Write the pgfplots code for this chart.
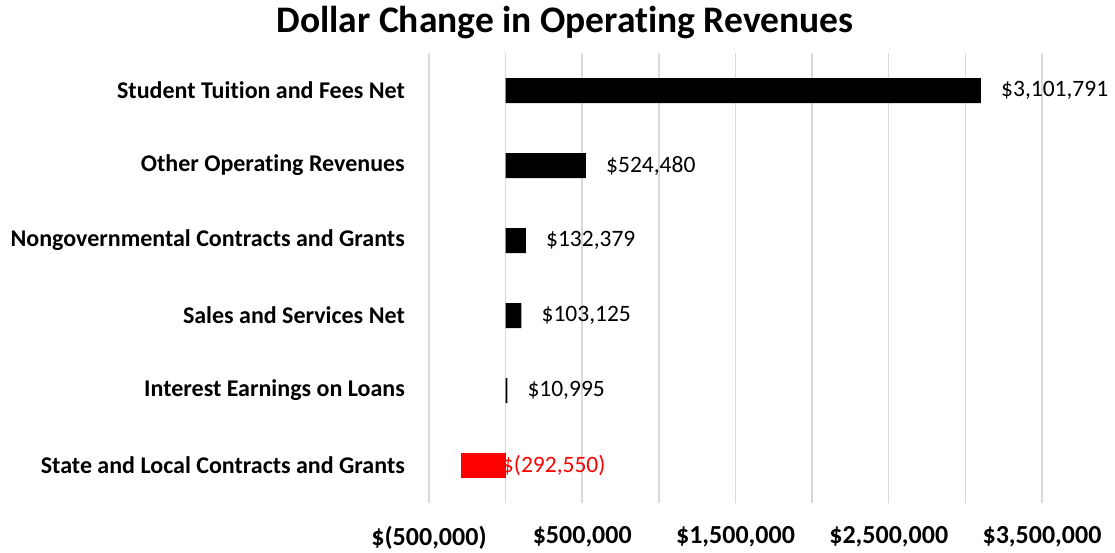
\documentclass[border=0pt]{standalone}
\usepackage{fontspec}
\setmainfont{Carlito}[Ligatures={NoCommon,NoContextual}]
\usepackage{pgfplots}
\pgfplotsset{compat=1.18}
\definecolor{gridgray}{HTML}{D9D9D9}
\begin{document}
\begin{tikzpicture}
\path[use as bounding box] (-429pt,-49pt) rectangle (686pt,503pt);
\begin{axis}[
  at={(0pt,0pt)}, anchor=south west,
  scale only axis, width=613pt, height=450pt,
  xbar, bar width=25pt, bar shift=0pt,
  xmin=-500000, xmax=3500000,
  ymin=-0.5, ymax=5.5, y dir=reverse,
  axis line style={draw=none},
  major tick length=0pt, minor tick length=0pt,
  ytick={0,1,2,3,4,5},
  yticklabels={Student Tuition and Fees Net, Other Operating Revenues, Nongovernmental Contracts and Grants, Sales and Services Net, Interest Earnings on Loans, State and Local Contracts and Grants},
  yticklabel style={font=\fontsize{24}{28}\selectfont\bfseries, anchor=east, inner sep=0pt, xshift=-24pt},
  xtick={-500000,500000,1500000,2500000,3500000},
  minor xtick={0,1000000,2000000,3000000},
  xticklabels={\$(500{,}000), \$500{,}000, \$1{,}500{,}000, \$2{,}500{,}000, \$3{,}500{,}000},
  xticklabel style={font=\fontsize{26}{30}\selectfont\bfseries, anchor=north, inner sep=0pt, yshift=-23pt},
  /pgf/number format/assume math mode=true,
  xmajorgrids, xminorgrids, ymajorgrids=false,
  major grid style={draw=gridgray, line width=1.5pt},
  minor grid style={draw=gridgray, line width=1.5pt},
  point meta=explicit symbolic,
  nodes near coords,
  clip=false,
]
\addplot[fill=black, draw=none,
  nodes near coords style={anchor=west, inner sep=0pt, xshift=20pt, font=\fontsize{23.5}{28}\selectfont, text=black}]
  coordinates {
  (3101791,0) [\$3{,}101{,}791]
  (524480,1) [\$524{,}480]
  (132379,2) [\$132{,}379]
  (103125,3) [\$103{,}125]
  (10995,4) [\$10{,}995]
};
\addplot[fill=red, draw=none,
  nodes near coords style={anchor=west, inner sep=0pt, xshift=41pt, font=\fontsize{23.5}{28}\selectfont, text=red}]
  coordinates {
  (-292550,5) [\$(292{,}550)]
};
\end{axis}
\node[font=\fontsize{37.5}{44}\selectfont\bfseries] at (136pt,480pt) {Dollar Change in Operating Revenues};
\end{tikzpicture}
\end{document}
